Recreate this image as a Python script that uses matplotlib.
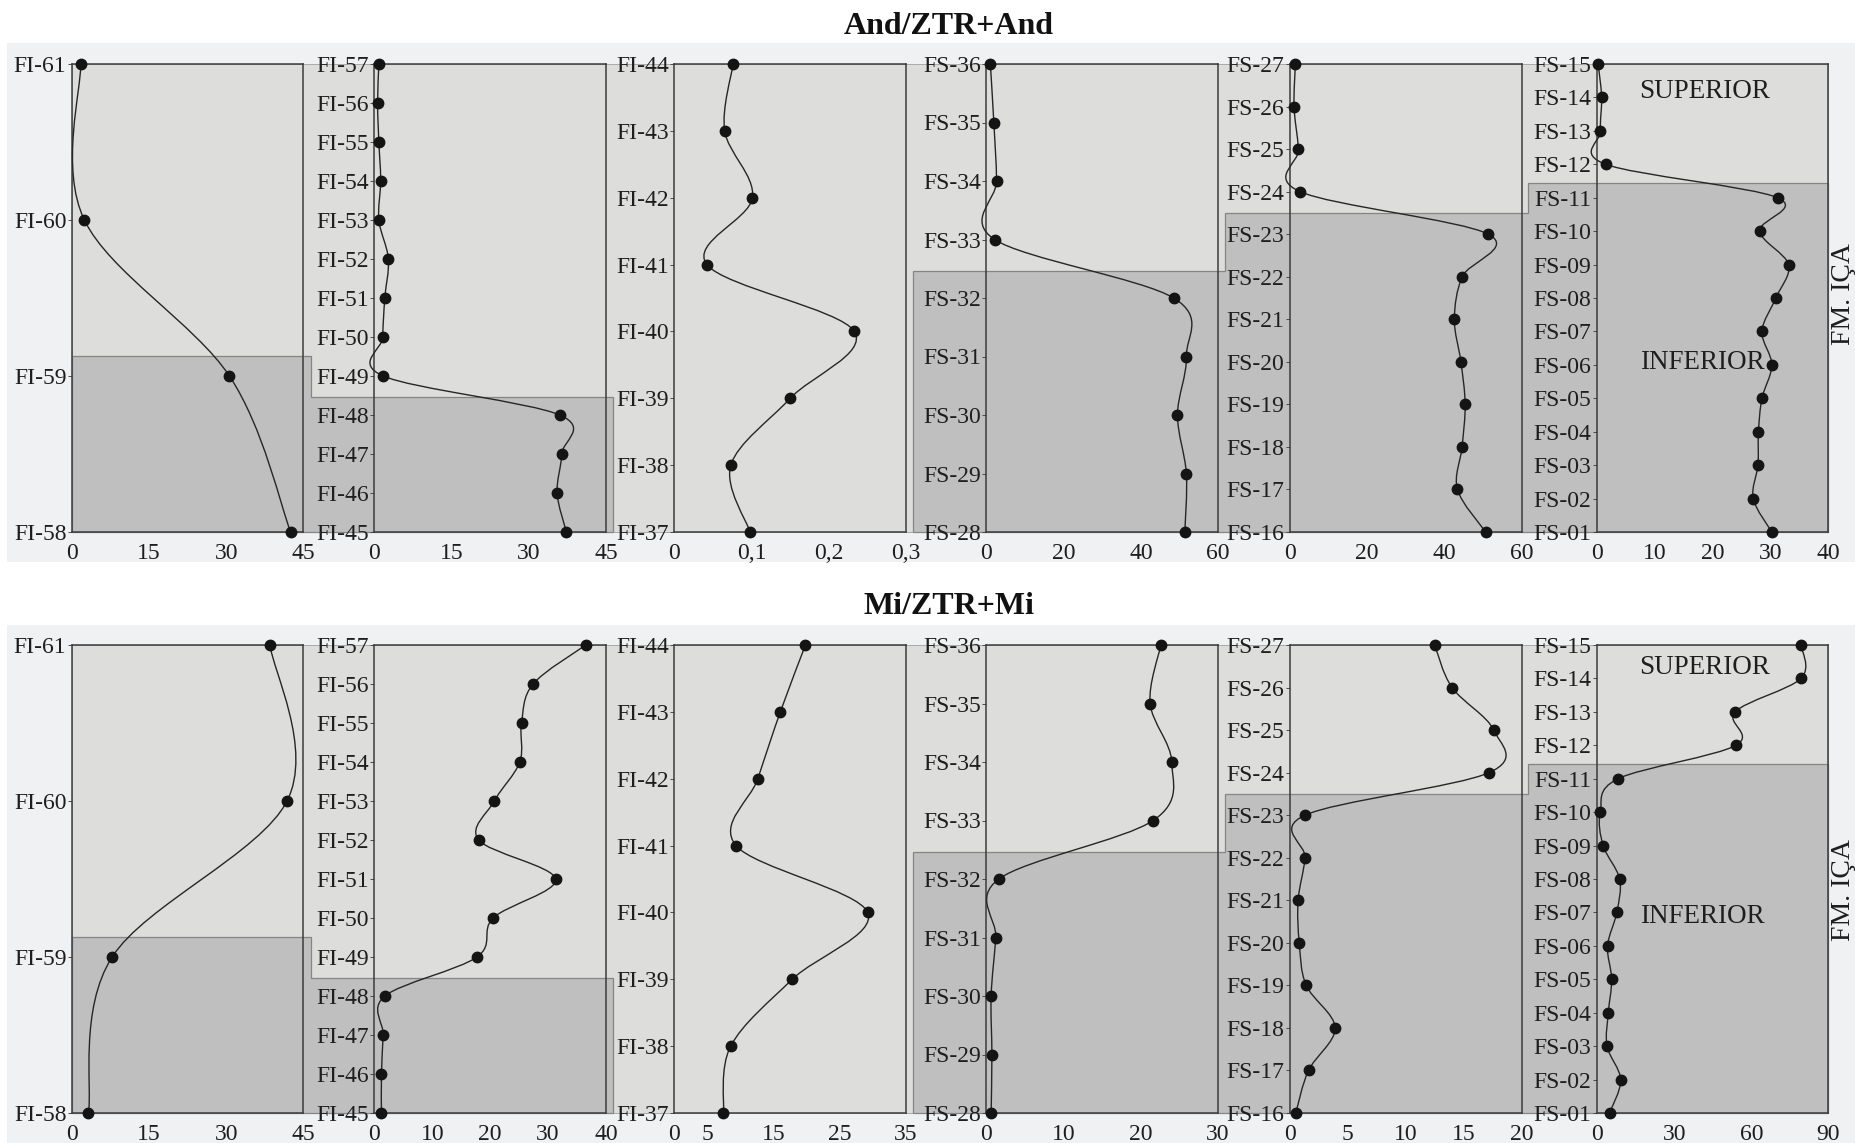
import numpy as np
import matplotlib
matplotlib.use('Agg')
import matplotlib.pyplot as plt
from matplotlib.path import Path
from matplotlib.patches import PathPatch, Rectangle, Polygon

plt.rcParams['font.family'] = ['Liberation Serif', 'DejaVu Serif']

# sample names, bottom -> top in each column
names_1 = ['FI-%d' % i for i in range(58, 62)]
names_2 = ['FI-%d' % i for i in range(45, 58)]
names_3 = ['FI-%d' % i for i in range(37, 45)]
names_4 = ['FS-%d' % i for i in range(28, 37)]
names_5 = ['FS-%d' % i for i in range(16, 28)]
names_6 = ['FS-%02d' % i for i in range(1, 16)]
names = [names_1, names_2, names_3, names_4, names_5, names_6]

# And/ZTR+And (bottom -> top)
and_1 = [42.5, 30.6, 2.4, 1.7]
and_2 = [37.3, 35.5, 36.4, 36.0, 1.7, 1.6, 2.0, 2.7, 0.85, 1.2, 0.85, 0.6, 0.85]
and_3 = [0.098, 0.073, 0.150, 0.233, 0.042, 0.101, 0.065, 0.076]
and_4 = [51.4, 51.8, 49.5, 51.8, 48.5, 2.1, 2.6, 1.9, 1.0]
and_5 = [50.7, 43.4, 44.6, 45.4, 44.3, 42.6, 44.6, 51.4, 2.6, 2.2, 1.05, 1.4]
and_6 = [30.2, 27.0, 27.8, 27.9, 28.5, 30.2, 28.5, 30.9, 33.1, 28.1, 31.2, 1.5, 0.6, 0.8, 0.2]

# Mi/ZTR+Mi (bottom -> top)
mi_1 = [3.2, 7.8, 41.8, 38.5]
mi_2 = [1.2, 1.2, 1.5, 1.8, 17.7, 20.5, 31.3, 18.0, 20.7, 25.1, 25.4, 27.4, 36.5]
mi_3 = [7.4, 8.5, 17.8, 29.2, 9.3, 12.6, 16.0, 19.8]
mi_4 = [0.6, 0.7, 0.6, 1.2, 1.6, 21.6, 24.0, 21.2, 22.6]
mi_5 = [0.5, 1.6, 3.9, 1.4, 0.8, 0.7, 1.3, 1.3, 17.2, 17.6, 14.0, 12.5]
mi_6 = [4.9, 9.2, 3.9, 4.4, 5.7, 4.1, 7.7, 8.8, 2.4, 1.3, 8.2, 54.0, 53.7, 79.3, 79.3]

and_ticks = [[0, 15, 30, 45], [0, 15, 30, 45], [0, 0.1, 0.2, 0.3],
             [0, 20, 40, 60], [0, 20, 40, 60], [0, 10, 20, 30, 40]]
and_ticklabels = [None, None, ['0', '0,1', '0,2', '0,3'], None, None, None]
mi_ticks = [[0, 15, 30, 45], [0, 10, 20, 30, 40], [0, 5, 15, 25, 35],
            [0, 10, 20, 30], [0, 5, 10, 15, 20], [0, 30, 60, 90]]

# Superior / Inferior boundary (sample index from bottom), None = all superior
boundary = [1.13, 3.46, None, 4.47, 7.5, 10.45]

W, H = 1856, 1143
fig = plt.figure(figsize=(W / 100, H / 100), dpi=100)
fig.patch.set_facecolor('white')

lefts = [72, 374.5, 674.5, 986.5, 1290, 1597]
aw, ah = 231.5, 468
row_tops = [64, 645]
bg_rows = [(43, 562), (625, 1143)]

pale = '#eff1f3'
light = '#dddddb'
dark = '#bfbfbf'


def smooth_path(x, y):
    pts = np.column_stack([x, y]).astype(float)
    verts = [pts[0]]
    codes = [Path.MOVETO]
    n = len(pts)
    for i in range(n - 1):
        p0 = pts[i - 1] if i > 0 else pts[i]
        p1, p2 = pts[i], pts[i + 1]
        p3 = pts[i + 2] if i + 2 < n else pts[i + 1]
        verts += [p1 + (p2 - p0) / 6, p2 - (p3 - p1) / 6, p2]
        codes += [Path.CURVE4] * 3
    return Path(verts, codes)


def to_fig(px, py_top):
    return (px / W, 1 - py_top / H)


def draw_row(r, series, ticks, ticklabels, title, sup_y, inf_y, fm_y):
    top = row_tops[r]
    b0, b1 = bg_rows[r]
    # pale background
    fig.patches.append(Rectangle(to_fig(7, b1), (W - 7) / W, (b1 - b0) / H,
                                 transform=fig.transFigure, facecolor=pale,
                                 edgecolor='none', zorder=-3))
    # superior band
    fig.patches.append(Rectangle(to_fig(lefts[0], top + ah), (lefts[-1] + aw - lefts[0]) / W, ah / H,
                                 transform=fig.transFigure, facecolor=light,
                                 edgecolor='#a0a0a0', linewidth=0.6, zorder=-2))
    axes = []
    for i in range(6):
        ax = fig.add_axes([lefts[i] / W, 1 - (top + ah) / H, aw / W, ah / H])
        ax.set_facecolor('none')
        vals = series[i]
        idx = np.arange(len(vals))
        ax.set_ylim(0, len(vals) - 1)
        ax.set_xlim(ticks[i][0], ticks[i][-1])
        ax.add_patch(PathPatch(smooth_path(vals, idx), fill=False, edgecolor='#262626',
                               linewidth=1.0, clip_on=False, zorder=3))
        ax.plot(vals, idx, 'o', color='#141414', ms=7.5, clip_on=False, zorder=4)
        ax.set_yticks(idx)
        ax.set_yticklabels(names[i])
        ax.set_xticks(ticks[i])
        if ticklabels[i] is not None:
            ax.set_xticklabels(ticklabels[i])
        else:
            ax.set_xticklabels([('%g' % t) for t in ticks[i]])
        ax.tick_params(axis='y', length=3, width=0.7, pad=1, labelsize=17,
                       colors='#4a4a4a', labelcolor='#1e1e1e')
        ax.tick_params(axis='x', length=0, pad=8, labelsize=17, labelcolor='#1e1e1e')
        for s in ax.spines.values():
            s.set_color('#3c3c3c')
            s.set_linewidth(1.1)
        axes.append(ax)

    # inferior (dark) stepped region built from the boundary in each column
    groups = [[0, 1], [3, 4, 5]]
    bottom_px = top + ah
    for g in groups:
        verts = []
        for k, i in enumerate(g):
            ax = axes[i]
            ydisp = ax.transData.transform((0, boundary[i]))[1]
            ypx = H - ydisp
            if k == 0:
                x0 = lefts[i] if i == 0 else lefts[i - 1] + aw + 7
                verts.append(to_fig(x0, bottom_px))
                verts.append(to_fig(x0, ypx))
            else:
                verts.append(to_fig(lefts[i - 1] + aw + 7, ypx))
            x1 = lefts[i] + aw + (7 if i < 5 else 0)
            verts.append(to_fig(x1, ypx))
        verts.append(to_fig(x1, bottom_px))
        fig.patches.append(Polygon(verts, closed=True, transform=fig.transFigure,
                                   facecolor=dark, edgecolor='#858585', linewidth=0.9,
                                   zorder=-1))

    fig.text(949 / W, 1 - (top - 38) / H, title, ha='center', va='center',
             fontsize=23, fontweight='bold', color='#111111')
    axes[5].text(0.465, sup_y, 'SUPERIOR', transform=axes[5].transAxes,
                 ha='center', va='center', fontsize=19.5, color='#1e1e1e')
    axes[5].text(0.455, inf_y, 'INFERIOR', transform=axes[5].transAxes,
                 ha='center', va='center', fontsize=19.5, color='#1e1e1e')
    fig.text(1844 / W, 1 - fm_y / H, 'FM. IÇA', rotation=90, ha='center', va='center',
             fontsize=20, color='#1e1e1e')


draw_row(0, [and_1, and_2, and_3, and_4, and_5, and_6], and_ticks, and_ticklabels,
         'And/ZTR+And', 0.942, 0.362, 294)
draw_row(1, [mi_1, mi_2, mi_3, mi_4, mi_5, mi_6], mi_ticks, [None] * 6,
         'Mi/ZTR+Mi', 0.951, 0.419, 890)

fig.savefig('out.png', dpi=100)
